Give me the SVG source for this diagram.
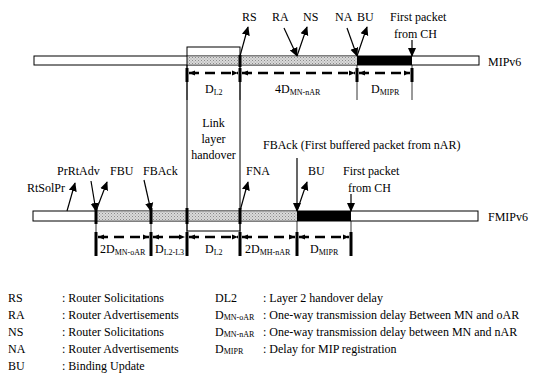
<svg xmlns="http://www.w3.org/2000/svg" width="550" height="374" viewBox="0 0 550 374" font-family="'Liberation Serif', 'DejaVu Serif', serif" font-size="12">
<defs>
<pattern id="hatch" width="3" height="3" patternUnits="userSpaceOnUse">
<rect width="3" height="3" fill="#d9d9d9"/>
<rect width="1" height="1" fill="#8a8a8a"/>
<rect x="1.5" y="1.5" width="1" height="1" fill="#a0a0a0"/>
</pattern>
<marker id="ah" viewBox="0 0 10 10" refX="9" refY="5" markerWidth="9" markerHeight="9" orient="auto-start-reverse" markerUnits="userSpaceOnUse">
<path d="M0,0.5 L10,5 L0,9.5 z" fill="#000"/>
</marker>
<marker id="dh" viewBox="0 0 10 10" refX="10" refY="5" markerWidth="6" markerHeight="6" orient="auto-start-reverse" markerUnits="userSpaceOnUse">
<path d="M0,1 L10,5 L0,9 z" fill="#000"/>
</marker>
</defs>
<style>
text{font-family:'Liberation Serif','DejaVu Serif',serif;font-size:12px;fill:#000}
.sub{font-size:8px}
.bar{stroke:#000;stroke-width:1}
.arr{stroke:#000;stroke-width:1.2;fill:none;marker-end:url(#ah)}
.dash{stroke:#000;stroke-width:2.5;stroke-dasharray:10 6;fill:none;marker-start:url(#dh);marker-end:url(#dh)}
.tick{stroke:#000;stroke-width:0.8}
.mark{stroke:#000;stroke-width:3}
.mid{text-anchor:middle}
</style>

<g id="mipv6-bar">
<rect class="bar" x="34" y="56" width="445" height="9" fill="#fff"/>
<rect x="187" y="56.5" width="170" height="8" fill="url(#hatch)"/>
<rect x="357" y="56" width="55" height="9" fill="#000"/>
<line class="mark" x1="240" y1="55" x2="240" y2="67"/>
<text x="488" y="66">MIPv6</text>
</g>

<g id="fmipv6-bar">
<rect class="bar" x="33" y="211" width="445" height="10" fill="#fff"/>
<rect x="96" y="211.5" width="201" height="9" fill="url(#hatch)"/>
<rect x="297" y="211" width="54" height="10" fill="#000"/>
<line class="mark" x1="96" y1="208" x2="96" y2="224"/>
<line class="mark" x1="151" y1="208" x2="151" y2="224"/>
<line class="mark" x1="187" y1="208" x2="187" y2="224"/>
<line class="mark" x1="240" y1="208" x2="240" y2="224"/>
<text x="488" y="221">FMIPv6</text>
</g>

<g id="link-layer-box">
<rect x="187" y="47" width="53" height="184" fill="none" stroke="#000" stroke-width="1"/>
<text class="mid" x="213.5" y="127">Link</text>
<text class="mid" x="213.5" y="143">layer</text>
<text class="mid" x="213.5" y="159">handover</text>
</g>

<g id="connectors">
<line class="arr" x1="240" y1="56" x2="248" y2="27"/>
<line class="arr" x1="284" y1="28" x2="297" y2="56"/>
<line class="arr" x1="297" y1="56" x2="307" y2="27"/>
<line class="arr" x1="347" y1="28" x2="357" y2="56"/>
<line class="arr" x1="357" y1="56" x2="367" y2="27"/>
<line class="arr" x1="412" y1="40" x2="412" y2="56"/>
<line class="arr" x1="67" y1="211" x2="75" y2="183"/>
<line class="arr" x1="91" y1="181" x2="96" y2="211"/>
<line class="arr" x1="96" y1="211" x2="107" y2="182"/>
<line class="arr" x1="144" y1="180" x2="151" y2="211"/>
<line class="arr" x1="240" y1="211" x2="248" y2="182"/>
<line class="arr" x1="297" y1="158" x2="297" y2="211"/>
<line class="arr" x1="297" y1="211" x2="307" y2="182"/>
<line class="arr" x1="351" y1="194" x2="351" y2="211"/>
<line class="tick" x1="187" y1="65" x2="187" y2="100"/>
<line class="tick" x1="240" y1="65" x2="240" y2="100"/>
<line class="tick" x1="357" y1="65" x2="357" y2="100"/>
<line class="tick" x1="412" y1="65" x2="412" y2="100"/>
<line class="mark" x1="187" y1="68" x2="187" y2="82"/>
<line class="mark" x1="240" y1="68" x2="240" y2="82"/>
<line class="mark" x1="357" y1="68" x2="357" y2="82"/>
<line class="mark" x1="412" y1="68" x2="412" y2="82"/>
<line class="dash" x1="189" y1="73" x2="238" y2="73"/>
<line class="dash" x1="242" y1="73" x2="355" y2="73"/>
<line class="dash" x1="359" y1="73" x2="410" y2="73"/>
<line class="tick" x1="96" y1="221" x2="96" y2="256"/>
<line class="tick" x1="151" y1="221" x2="151" y2="256"/>
<line class="tick" x1="187" y1="221" x2="187" y2="256"/>
<line class="tick" x1="240" y1="221" x2="240" y2="256"/>
<line class="tick" x1="297" y1="221" x2="297" y2="256"/>
<line class="tick" x1="351" y1="221" x2="351" y2="256"/>
<line class="mark" x1="96" y1="232" x2="96" y2="256"/>
<line class="mark" x1="151" y1="232" x2="151" y2="256"/>
<line class="mark" x1="187" y1="232" x2="187" y2="256"/>
<line class="mark" x1="240" y1="232" x2="240" y2="256"/>
<line class="mark" x1="297" y1="232" x2="297" y2="256"/>
<line class="mark" x1="351" y1="232" x2="351" y2="256"/>
<line class="dash" x1="98" y1="237" x2="149" y2="237"/>
<line class="dash" x1="153" y1="237" x2="185" y2="237"/>
<line class="dash" x1="189" y1="237" x2="238" y2="237"/>
<line class="dash" x1="242" y1="237" x2="295" y2="237"/>
<line class="dash" x1="299" y1="237" x2="349" y2="237"/>
</g>

<g id="top-labels">
<text x="242" y="21">RS</text>
<text x="272" y="21">RA</text>
<text x="303" y="21">NS</text>
<text x="335" y="21">NA</text>
<text x="357" y="21">BU</text>
<text x="390" y="21">First packet</text>
<text x="394" y="38">from CH</text>
<text x="205" y="93">D<tspan class="sub" dy="2">L2</tspan></text>
<text x="275" y="93">4D<tspan class="sub" dy="2">MN-nAR</tspan></text>
<text x="371" y="93">D<tspan class="sub" dy="2">MIPR</tspan></text>
</g>

<g id="bottom-labels">
<text x="263" y="149">FBAck (First buffered packet from nAR)</text>
<text x="57" y="175">PrRtAdv</text>
<text x="110" y="175">FBU</text>
<text x="143" y="175">FBAck</text>
<text x="246" y="175">FNA</text>
<text x="308" y="175">BU</text>
<text x="343" y="175">First packet</text>
<text x="348" y="192">from CH</text>
<text x="27" y="192">RtSolPr</text>
<text x="100" y="253">2D<tspan class="sub" dy="2">MN-oAR</tspan></text>
<text x="155" y="253">D<tspan class="sub" dy="2">L2-L3</tspan></text>
<text x="205" y="253">D<tspan class="sub" dy="2">L2</tspan></text>
<text x="245" y="253">2D<tspan class="sub" dy="2">MH-nAR</tspan></text>
<text x="310" y="253">D<tspan class="sub" dy="2">MIPR</tspan></text>
</g>

<g id="legend">
<text x="8" y="302">RS</text><text x="62" y="302">: Router Solicitations</text>
<text x="8" y="319">RA</text><text x="62" y="319">: Router Advertisements</text>
<text x="8" y="336">NS</text><text x="62" y="336">: Router Solicitations</text>
<text x="8" y="353">NA</text><text x="62" y="353">: Router Advertisements</text>
<text x="8" y="370">BU</text><text x="62" y="370">: Binding Update</text>
<text x="215" y="302">DL2</text><text x="263" y="302">: Layer 2 handover delay</text>
<text x="215" y="319">D<tspan class="sub" dy="1">MN-oAR</tspan></text><text x="263" y="319">: One-way transmission delay Between MN and oAR</text>
<text x="215" y="336">D<tspan class="sub" dy="1">MN-nAR</tspan></text><text x="263" y="336">: One-way transmission delay between MN and nAR</text>
<text x="215" y="353">D<tspan class="sub" dy="1">MIPR</tspan></text><text x="263" y="353">: Delay for MIP registration</text>
</g>
</svg>
